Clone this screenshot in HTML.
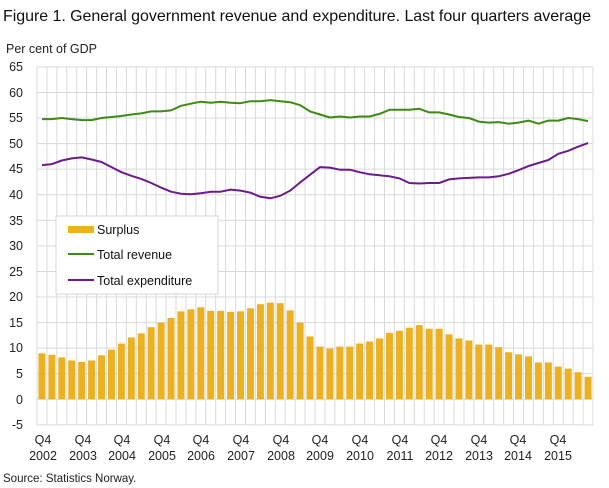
<!DOCTYPE html>
<html><head><meta charset="utf-8"><style>
body{margin:0;background:#fff;}
svg{display:block;font-family:"Liberation Sans",sans-serif;}
</style></head><body>
<svg id="s" width="609" height="488" viewBox="0 0 609 488">
<text x="3" y="21" font-size="16" fill="#111" textLength="588" lengthAdjust="spacing">Figure 1. General government revenue and expenditure. Last four quarters average</text>
<text x="6" y="53" font-size="12.5" fill="#222">Per cent of GDP</text>
<g id="grid"></g>
<g font-size="12.5" fill="#222" text-anchor="end">
<text x="23" y="71">65</text><text x="23" y="97">60</text><text x="23" y="122">55</text><text x="23" y="148">50</text>
<text x="23" y="173">45</text><text x="23" y="199">40</text><text x="23" y="225">35</text><text x="23" y="250">30</text>
<text x="23" y="276">25</text><text x="23" y="301">20</text><text x="23" y="327">15</text><text x="23" y="352">10</text>
<text x="23" y="378">5</text><text x="23" y="404">0</text><text x="23" y="429">-5</text>
</g>
<g font-size="12.5" fill="#222" text-anchor="middle">
<text x="43" y="444">Q4</text><text x="43" y="460">2002</text>
<text x="83" y="444">Q4</text><text x="83" y="460">2003</text>
<text x="122" y="444">Q4</text><text x="122" y="460">2004</text>
<text x="162" y="444">Q4</text><text x="162" y="460">2005</text>
<text x="201" y="444">Q4</text><text x="201" y="460">2006</text>
<text x="241" y="444">Q4</text><text x="241" y="460">2007</text>
<text x="281" y="444">Q4</text><text x="281" y="460">2008</text>
<text x="320" y="444">Q4</text><text x="320" y="460">2009</text>
<text x="360" y="444">Q4</text><text x="360" y="460">2010</text>
<text x="400" y="444">Q4</text><text x="400" y="460">2011</text>
<text x="439" y="444">Q4</text><text x="439" y="460">2012</text>
<text x="479" y="444">Q4</text><text x="479" y="460">2013</text>
<text x="518" y="444">Q4</text><text x="518" y="460">2014</text>
<text x="558" y="444">Q4</text><text x="558" y="460">2015</text>
</g>
<text x="3" y="482" font-size="11.5" fill="#222">Source: Statistics Norway.</text>
<g id="data"></g>
<rect x="56" y="216" width="162" height="78" fill="#fff" stroke="#d6d6d6"/>
<rect x="68" y="226" width="26" height="7" fill="#ebb121"/>
<line x1="68" y1="254" x2="94" y2="254" stroke="#3d8a14" stroke-width="2"/>
<line x1="68" y1="280" x2="94" y2="280" stroke="#6d1a8a" stroke-width="2"/>
<g font-size="12.5" fill="#111">
<text x="97" y="234">Surplus</text><text x="97" y="259">Total revenue</text><text x="97" y="285">Total expenditure</text>
</g>
</svg>
<script>
var L=37,R=593,N=56,W=(R-L)/N;
function Y(v){return 399.3-v*25.57/5;}
var ns="http://www.w3.org/2000/svg",g=document.getElementById('grid'),d=document.getElementById('data');
function el(p,t,a){var e=document.createElementNS(ns,t);for(var k in a)e.setAttribute(k,a[k]);p.appendChild(e);return e;}
for(var v=-5;v<=65;v+=5)el(g,'line',{x1:L,x2:R,y1:Y(v),y2:Y(v),stroke:'#d9d9d9','stroke-width':1});
for(var i=0;i<=N;i++){var x=L+i*W;el(g,'line',{x1:x,x2:x,y1:Y(65),y2:Y(-5),stroke:'#d9d9d9','stroke-width':1});}
var s=[9,8.7,8.2,7.6,7.3,7.6,8.6,9.7,10.9,12.1,12.9,14.1,15,15.9,17.2,17.6,18,17.3,17.3,17.1,17.2,17.8,18.6,18.9,18.8,17.4,15,12.3,10.3,9.9,10.3,10.3,10.9,11.3,11.9,13,13.4,14,14.5,13.8,13.8,12.7,11.9,11.5,10.7,10.7,10.2,9.2,8.8,8.4,7.2,7.2,6.4,6,5.3,4.4];
var r=[54.8,54.8,55,54.8,54.6,54.6,55,55.2,55.4,55.7,55.9,56.3,56.3,56.5,57.4,57.8,58.2,58,58.2,58,57.9,58.3,58.3,58.5,58.3,58.1,57.5,56.3,55.7,55.1,55.3,55.1,55.3,55.3,55.8,56.6,56.6,56.6,56.8,56.1,56.1,55.7,55.2,55,54.3,54.1,54.2,53.9,54.1,54.5,53.9,54.5,54.5,55,54.8,54.4];
var e=[45.8,46,46.7,47.1,47.3,46.9,46.4,45.4,44.4,43.7,43.1,42.3,41.4,40.6,40.2,40.1,40.3,40.6,40.6,41,40.8,40.4,39.6,39.3,39.8,40.8,42.4,43.9,45.4,45.3,44.9,44.9,44.4,44,43.8,43.6,43.2,42.3,42.2,42.3,42.3,43,43.2,43.3,43.4,43.4,43.6,44.1,44.8,45.6,46.2,46.8,48,48.6,49.4,50.1];
for(var i=0;i<N;i++){var cx=L+(i+.5)*W;el(d,'rect',{x:cx-3.5,y:Y(s[i]),width:7,height:Y(0)-Y(s[i]),fill:'#ebb121'});}
function line(a,c){var p=a.map(function(v,i){return (L+(i+.5)*W).toFixed(1)+','+Y(v).toFixed(1)}).join(' ');el(d,'polyline',{points:p,fill:'none',stroke:c,'stroke-width':2,'stroke-linejoin':'round'});}
line(r,'#3d8a14');line(e,'#6d1a8a');
</script>
</body></html>
